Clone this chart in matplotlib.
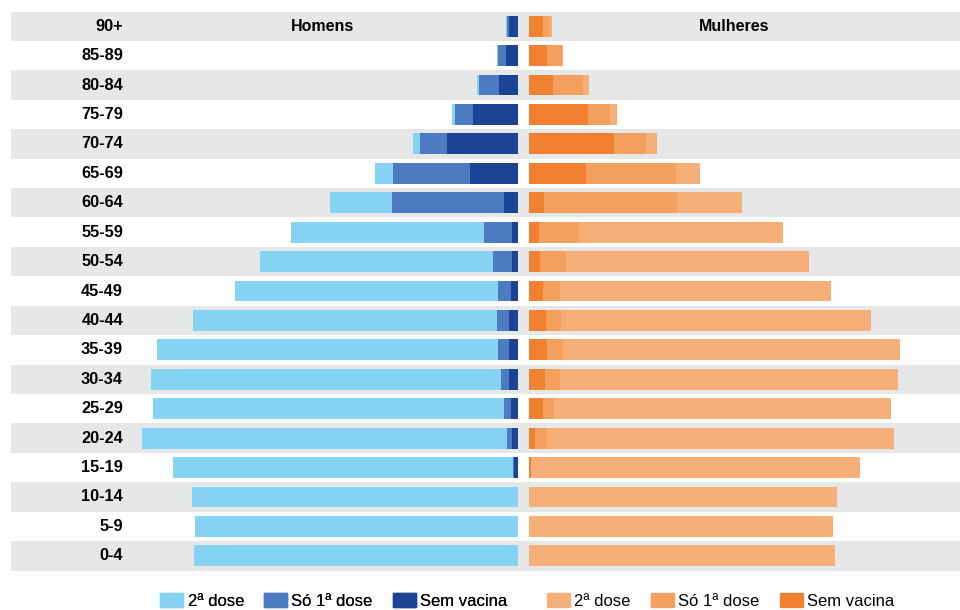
import matplotlib
matplotlib.use("Agg")
import matplotlib.pyplot as plt
from matplotlib.patches import Patch
import numpy as np

# Age groups, oldest on top
age_groups = ["90+", "85-89", "80-84", "75-79", "70-74", "65-69", "60-64", "55-59",
              "50-54", "45-49", "40-44", "35-39", "30-34", "25-29", "20-24",
              "15-19", "10-14", "5-9", "0-4"]

# Men (population, thousands)
men_sem_vacina = [9, 12, 19, 45, 71, 48, 14, 6, 6, 7, 9, 9, 9, 7, 6, 4, 0, 0, 0]
men_so_1a_dose = [2, 8, 20, 18, 27, 77, 112, 28, 19, 13, 12, 11, 8, 7, 5, 1, 0, 0, 0]
men_2a_dose = [1, 1, 2, 3, 7, 18, 62, 193, 233, 263, 304, 341, 350, 351, 365, 340, 326, 323, 324]

# Women (population, thousands)
women_sem_vacina = [14, 18, 24, 59, 85, 57, 15, 10, 11, 14, 17, 18, 16, 14, 6, 2, 0, 0, 0]
women_so_1a_dose = [6, 15, 30, 22, 32, 90, 133, 40, 26, 17, 15, 16, 15, 11, 12, 0, 0, 0, 0]
women_2a_dose = [3, 1, 6, 7, 11, 24, 65, 204, 243, 271, 310, 337, 338, 337, 347, 329, 308, 304, 306]

series_labels = ["2ª dose", "Só 1ª dose", "Sem vacina"]
men_colors = ["#86D3F3", "#4C7BC1", "#1C4495"]
women_colors = ["#F7AF7A", "#F49F5E", "#F08130"]
stripe_color = "#E6E7E7"

W, H = 960, 610
fig = plt.figure(figsize=(W / 100, H / 100), dpi=100)
fig.patch.set_facecolor("white")

n = len(age_groups)
ypos = np.arange(n)[::-1]  # first group at the top

top_px, bottom_px = 11.5, 570.5
ax_bottom = 1 - bottom_px / H
ax_height = (bottom_px - top_px) / H


def px_axes(x0, x1):
    return fig.add_axes([x0 / W, ax_bottom, (x1 - x0) / W, ax_height])


# Alternating background stripes
bg = px_axes(11, 960)
bg.set_xlim(0, 1)
bg.set_ylim(-0.5, n - 0.5)
for i, y in enumerate(ypos):
    if i % 2 == 0:
        bg.axhspan(y - 0.5, y + 0.5, color=stripe_color, lw=0, zorder=0)
bg.axis("off")

label_font = ["Liberation Sans", "DejaVu Sans"]
for g, y in zip(age_groups, ypos):
    bg.text((123 - 11) / 949, y, g, ha="right", va="center", fontsize=11.8,
            fontweight="bold", family=label_font)

bar_h = 0.71

# Men: bars grow to the left from the centre
axm = px_axes(10, 518)
axm.set_xlim(508, 0)
axm.set_ylim(-0.5, n - 0.5)
left = np.zeros(n)
for vals, c in zip([men_sem_vacina, men_so_1a_dose, men_2a_dose], men_colors[::-1]):
    v = np.array(vals, dtype=float)
    axm.barh(ypos, v, left=left, height=bar_h, color=c, lw=0)
    left += v
axm.axis("off")
axm.patch.set_alpha(0)

# Women: bars grow to the right from the centre
axw = px_axes(529, 958)
axw.set_xlim(0, 429)
axw.set_ylim(-0.5, n - 0.5)
left = np.zeros(n)
for vals, c in zip([women_sem_vacina, women_so_1a_dose, women_2a_dose], women_colors[::-1]):
    v = np.array(vals, dtype=float)
    axw.barh(ypos, v, left=left, height=bar_h, color=c, lw=0)
    left += v
axw.axis("off")
axw.patch.set_alpha(0)

# Panel titles
title_y = 1 - 26.5 / H
fig.text(322 / W, title_y, "Homens", ha="center", va="center", fontsize=11.5,
         fontweight="bold", family=label_font)
fig.text(734 / W, title_y, "Mulheres", ha="center", va="center", fontsize=11.5,
         fontweight="bold", family=label_font)

# Legends
legend_kw = dict(loc="center left", ncol=3, frameon=False, borderpad=0,
                 borderaxespad=0, handlelength=1.4, handleheight=0.85,
                 handletextpad=0.25, columnspacing=1.2,
                 prop={"family": label_font, "size": 12})
men_handles = [Patch(color=c, label=l) for c, l in zip(men_colors, series_labels)]
women_handles = [Patch(color=c, label=l) for c, l in zip(women_colors, series_labels)]
leg1 = fig.legend(handles=men_handles, bbox_to_anchor=(160 / W, 1 - 601 / H), **legend_kw)
fig.add_artist(leg1)
fig.legend(handles=women_handles, bbox_to_anchor=(547 / W, 1 - 601 / H), **legend_kw)

fig.savefig("out.png", dpi=100, facecolor="white")
